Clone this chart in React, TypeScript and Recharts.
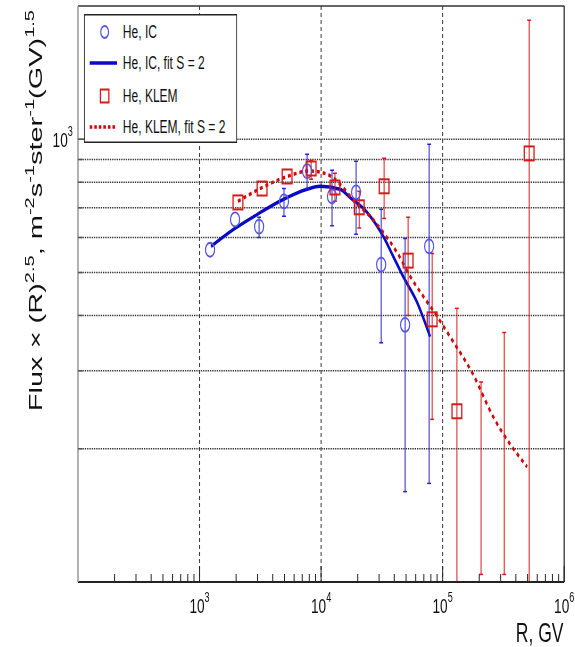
import {
  ComposedChart,
  Line,
  Scatter,
  ErrorBar,
  XAxis,
  YAxis,
  CartesianGrid,
  ReferenceLine,
} from 'recharts';

// The plot is laid out wide and then squeezed horizontally, ROOT-canvas style.
const SQUEEZE = 0.65;
const WIDTH = 885;
const HEIGHT = 647;
const FONT = '"Liberation Sans", Arial, Helvetica, sans-serif';

// He, IC measurements (R in GV, flux x R^2.5)
const icR = [1220, 1960, 3090, 4950, 7670, 12300, 19400, 31200, 49100, 77400];
const icFlux = [563, 659, 635, 724, 847, 743, 759, 521, 381, 573];
const icHi = [null, null, 667, 774, 925, 851, 892, 695, 597, 974];
const icLo = [null, null, 600, 670, 774, 638, 610, 347, 160, 167];

// He, IC fit S = 2
const icFitR = [1245, 1890, 2970, 4870, 7670, 9800, 14300, 17300, 23900, 32400, 39200, 47300, 61700, 78900];
const icFitFlux = [573, 625, 676, 731, 771, 783, 771, 739, 684, 604, 544, 490, 428, 358];

// He, KLEM measurements
const klemR = [2070, 3270, 5250, 8280, 13000, 20600, 33000, 52000, 82000, 131000, 515000];
const klemFlux = [720, 774, 824, 859, 778, 702, 783, 532, 392, 243, 929];
const klemHi = [null, null, null, 896, 838, 763, 906, 667, 552, 415, 1857];
const klemLo = [null, null, null, 812, 724, 630, 662, 400, 233, 100, 100];

// He, KLEM bins shown only as error ranges
const klemBarR = [207000, 321000];
const klemBarHi = [283, 366];
const klemBarLo = [104, 104];

// He, KLEM fit S = 2
const klemFitR = [2070, 3270, 5250, 8110, 11200, 13000, 19800, 25300, 32400, 42200, 54100, 69200, 90100, 115000, 175000, 261000, 495000];
const klemFitFlux = [724, 778, 824, 848, 834, 812, 713, 670, 616, 555, 490, 442, 398, 358, 297, 236, 182];

// axes
const xMajor = [1000, 10000, 100000, 1000000];
const xMajorExp = ['3', '4', '5', '6'];
const xMinorMult = [2, 3, 4, 5, 6, 7, 8, 9];
const xDecades = [100, 1000, 10000, 100000];
const yTicks = [200, 300, 400, 500, 600, 700, 800, 900, 1000];
const yGrid = [200, 300, 400, 500, 600, 700, 800, 900, 1000];
const xGrid = [1000, 10000, 100000];

const xTicks = [
  ...xDecades.flatMap((d) => xMinorMult.map((m) => m * d)),
  ...xMajor,
].sort((a, b) => a - b);

const withErr = (r: number[], f: number[], hi: (number | null)[], lo: (number | null)[]) =>
  r.map((x, i) => ({
    r: x,
    flux: f[i],
    err: hi[i] == null ? undefined : [f[i] - (lo[i] as number), (hi[i] as number) - f[i]],
  }));

const icData = withErr(icR, icFlux, icHi, icLo);
const klemData = withErr(klemR, klemFlux, klemHi, klemLo);
const klemBarData = klemBarR.map((r, i) => ({
  r,
  flux: klemBarHi[i],
  err: [klemBarHi[i] - klemBarLo[i], 0],
}));
const icFit = icFitR.map((r, i) => ({ r, flux: icFitFlux[i] }));
const klemFit = klemFitR.map((r, i) => ({ r, flux: klemFitFlux[i] }));

const BLUE_MARK = '#5656e6';
const BLUE_BAR = '#2424cc';
const BLUE_FIT = '#0a0ac4';
const RED = '#d61a1a';
const RED_FIT = '#cc0a0a';

function RTick(props: any) {
  const { x, y, payload } = props;
  const k = xMajor.indexOf(payload.value);
  const major = k >= 0;
  return (
    <g>
      <line x1={x} x2={x} y1={y} y2={y - (major ? 16 : 8)} stroke="#222" strokeWidth={1.5} />
      {major && (
        <text x={x} y={y + 31} textAnchor="middle" fontSize={21} fill="#111" fontFamily={FONT}>
          10
          <tspan dy={-11} fontSize={14}>
            {xMajorExp[k]}
          </tspan>
        </text>
      )}
    </g>
  );
}

function FluxTick(props: any) {
  const { x, y, payload } = props;
  const major = payload.value === 1000;
  return (
    <g>
      <line x1={x} x2={x + (major ? 12 : 7)} y1={y} y2={y} stroke="#555" strokeWidth={1.5} />
      {major && (
        <text x={x - 8} y={y + 7.5} textAnchor="end" fontSize={21} fill="#111" fontFamily={FONT}>
          10
          <tspan dy={-11} fontSize={14}>
            3
          </tspan>
        </text>
      )}
    </g>
  );
}

function YTitle() {
  const sup = { fontSize: 20 };
  return (
    <text
      x={65}
      y={10}
      transform="rotate(-90, 65, 10)"
      textAnchor="end"
      fontSize={29}
      fill="#111"
      fontFamily={FONT}
    >
      Flux × (R)
      <tspan dy={-12} {...sup}>2.5</tspan>
      <tspan dy={12}>,  m</tspan>
      <tspan dy={-12} {...sup}>-2</tspan>
      <tspan dy={12}>s</tspan>
      <tspan dy={-12} {...sup}>-1</tspan>
      <tspan dy={12}>ster</tspan>
      <tspan dy={-12} {...sup}>-1</tspan>
      <tspan dy={12}>(GV)</tspan>
      <tspan dy={-12} {...sup}>1.5</tspan>
    </text>
  );
}

function XTitle() {
  return (
    <text x={867} y={642} textAnchor="end" fontSize={27} fill="#111" fontFamily={FONT}>
      R, GV
    </text>
  );
}

const IcMarker = (p: any) => (
  <circle cx={p.cx} cy={p.cy} r={7} fill="none" stroke={BLUE_MARK} strokeWidth={1.8} />
);
const KlemMarker = (p: any) => (
  <rect x={p.cx - 7.5} y={p.cy - 7} width={15} height={14} fill="none" stroke={RED} strokeWidth={2} />
);
const NoMarker = () => <g />;

function Legend() {
  const rows = [18, 49, 82, 113];
  const textStyle = { fontSize: 18.5, fill: '#111', fontFamily: FONT };
  return (
    <svg
      width={236}
      height={129}
      style={{ position: 'absolute', left: 129, top: 14, overflow: 'visible' }}
    >
      <rect x={0.75} y={0.75} width={234.5} height={127.5} fill="#fff" stroke="#222" strokeWidth={1.5} />
      <circle cx={32} cy={rows[0]} r={6} fill="none" stroke={BLUE_MARK} strokeWidth={1.8} />
      <text x={60} y={rows[0] + 6.5} {...textStyle}>He, IC</text>
      <line x1={9} x2={51} y1={rows[1]} y2={rows[1]} stroke={BLUE_FIT} strokeWidth={3.5} />
      <text x={60} y={rows[1] + 6.5} {...textStyle}>He, IC, fit S = 2</text>
      <rect x={25.5} y={rows[2] - 6.5} width={13} height={13} fill="none" stroke={RED} strokeWidth={2} />
      <text x={60} y={rows[2] + 6.5} {...textStyle}>He, KLEM</text>
      <line x1={9} x2={51} y1={rows[3]} y2={rows[3]} stroke={RED_FIT} strokeWidth={3.5} strokeDasharray="4 3" />
      <text x={60} y={rows[3] + 6.5} {...textStyle}>He, KLEM, fit S = 2</text>
    </svg>
  );
}

export default function App() {
  return (
    <div
      style={{
        position: 'absolute',
        left: 0,
        top: 0,
        width: 575,
        height: 647,
        overflow: 'hidden',
        background: '#fff',
      }}
    >
      <div
        style={{
          position: 'absolute',
          left: 0,
          top: 0,
          width: WIDTH,
          height: HEIGHT,
          transform: `scaleX(${SQUEEZE})`,
          transformOrigin: '0 0',
        }}
      >
        <ComposedChart
          width={WIDTH}
          height={HEIGHT}
          margin={{ top: 6, right: 17, bottom: 0, left: 0 }}
        >
          <CartesianGrid
            horizontal={false}
            verticalValues={xGrid}
            stroke="#333"
            strokeWidth={1.5}
            strokeDasharray="4 3"
          />
          <CartesianGrid
            vertical={false}
            horizontalValues={yGrid}
            stroke="#333"
            strokeWidth={1.5}
            strokeDasharray="2 1.5"
          />
          <XAxis
            dataKey="r"
            type="number"
            scale="log"
            domain={[100, 1000000]}
            allowDataOverflow
            ticks={xTicks}
            interval={0}
            tickSize={0}
            tickMargin={0}
            tick={<RTick />}
            height={65}
            axisLine={{ stroke: '#222', strokeWidth: 2 }}
            tickLine={false}
            label={<XTitle />}
          />
          <YAxis
            dataKey="flux"
            type="number"
            scale="log"
            domain={[100, 2000]}
            allowDataOverflow
            ticks={yTicks}
            interval={0}
            tickSize={0}
            tickMargin={0}
            tick={<FluxTick />}
            width={120}
            axisLine={{ stroke: '#888', strokeWidth: 2 }}
            tickLine={false}
            label={<YTitle />}
          />
          <ReferenceLine y={2000} stroke="#333" strokeWidth={1.5} />
          <ReferenceLine x={1000000} stroke="#333" strokeWidth={2} />

          <Line
            data={icFit}
            dataKey="flux"
            type="monotone"
            stroke={BLUE_FIT}
            strokeWidth={3.5}
            dot={false}
            isAnimationActive={false}
          />
          <Line
            data={klemFit}
            dataKey="flux"
            type="monotone"
            stroke={RED_FIT}
            strokeWidth={3.5}
            strokeDasharray="4.5 4.5"
            dot={false}
            isAnimationActive={false}
          />

          <Scatter data={icData} dataKey="flux" shape={IcMarker} isAnimationActive={false}>
            <ErrorBar dataKey="err" direction="y" width={3} stroke={BLUE_BAR} strokeWidth={1.5} />
          </Scatter>
          <Scatter data={klemData} dataKey="flux" shape={KlemMarker} isAnimationActive={false}>
            <ErrorBar dataKey="err" direction="y" width={3} stroke={RED} strokeWidth={1.5} />
          </Scatter>
          <Scatter data={klemBarData} dataKey="flux" shape={NoMarker} isAnimationActive={false}>
            <ErrorBar dataKey="err" direction="y" width={3} stroke={RED} strokeWidth={1.5} />
          </Scatter>
        </ComposedChart>
        <Legend />
      </div>
    </div>
  );
}
